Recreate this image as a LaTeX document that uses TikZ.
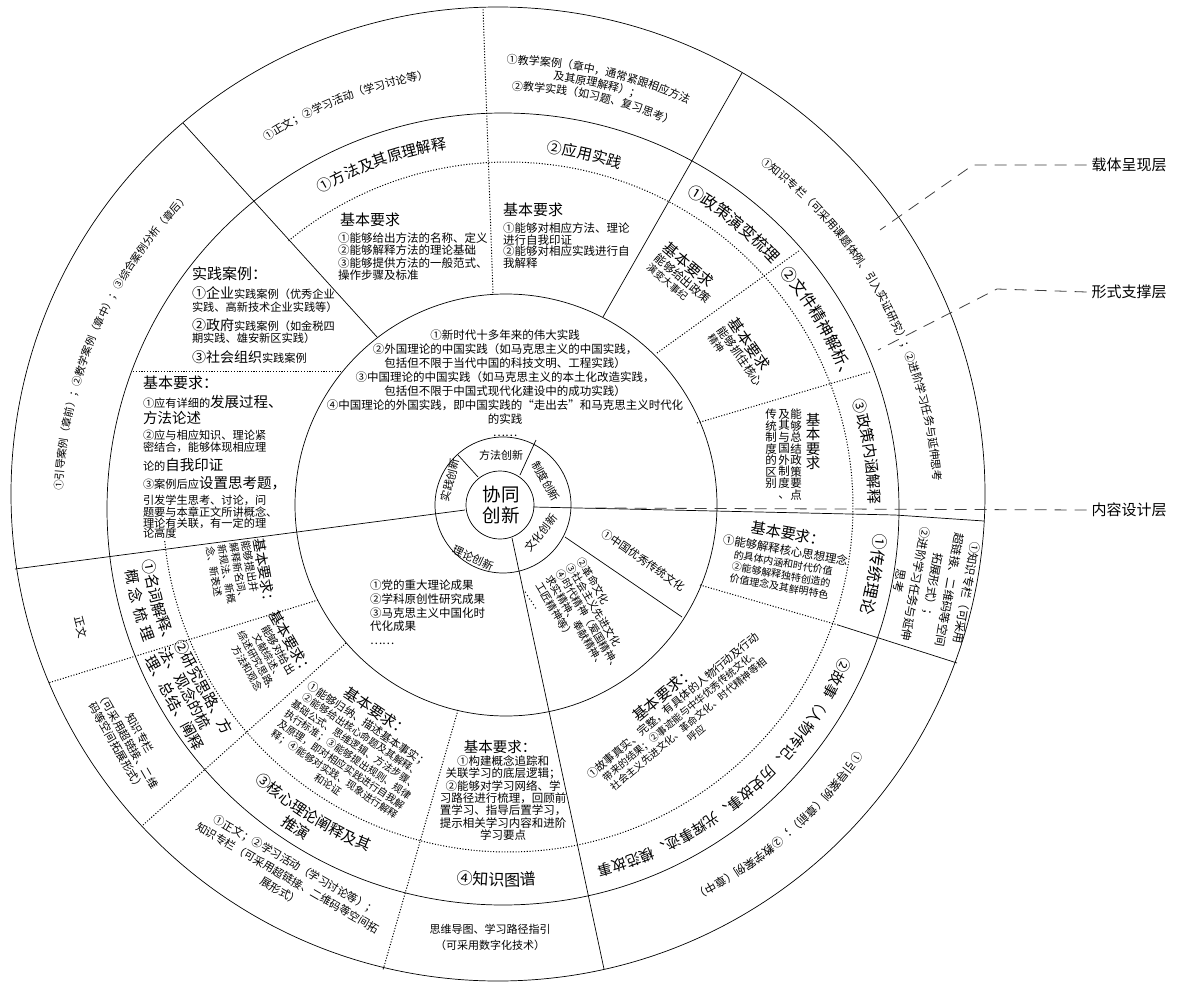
\documentclass[tikz,border=0pt]{standalone}
\usepackage{fontspec}
\setmainfont{Noto Sans CJK SC}
\usetikzlibrary{decorations.text}
\newcommand\fz[1]{\fontsize{#1}{#1}\selectfont}
\newcommand\fzb[2]{\fontsize{#1}{#2}\selectfont}
% curved text: centre, baseline radius, mid angle, half span (+ clockwise / - counter), size, text
\newcommand\arct[6]{%
  \path[decorate,decoration={text along path,text align=center,text={|\fz{#5}|#6}}]
    (#1) ++({#3+#4}:#2pt) arc[start angle={#3+#4},end angle={#3-#4},radius=#2pt];}
\newcommand\arcf[6]{%
  \path[decorate,decoration={text along path,text align=fit to path,text={|\fz{#5}|#6}}]
    (#1) ++({#3+#4}:#2pt) arc[start angle={#3+#4},end angle={#3-#4},radius=#2pt];}
\begin{document}
\begin{tikzpicture}[x=1pt,y=1pt,line width=0.7pt,
  dotl/.style={line width=1pt,dash pattern=on 1.1pt off 1.7pt},
  dashl/.style={line width=0.8pt,black!75,dash pattern=on 12pt off 8pt},
  tx/.style={inner sep=0pt,outer sep=0pt}]
\useasboundingbox (0,0) rectangle (1179,-982);
\fill[white] (0,0) rectangle (1179,-982);
\coordinate (O1) at (500,-505);
\coordinate (O2) at (503,-505);
\coordinate (O3) at (506,-505);
\coordinate (O4) at (503,-509);
\coordinate (OD) at (508,-507);
\coordinate (O5) at (498,-494);
% circles
\draw (O5) circle[radius=487pt];
\draw (O4) circle[radius=396pt];
\draw (O3) circle[radius=211pt];
\draw (O2) circle[radius=68pt];
\draw (O1) circle[radius=34pt];
\draw[dotl] (OD) ++(129.5:345pt) arc[start angle=129.5,end angle=-174.5,radius=345pt];
% solid radial lines
\draw (478,-477) -- (458,-455);
\draw (377,-337) -- (183,-123);
\draw (520,-475) -- (536,-440);
\draw (603,-317) -- (742,-73);
\draw (533,-507) -- (895,-515) -- (984,-521);
\draw (512,-538) -- (604,-969);
\draw (465,-510) -- (15,-569);
\draw (565,-537) -- (682,-617);
\draw (838,-625) -- (957,-663);
% dotted lines
\draw[dotl] (493,-293) -- (483,-8);
\draw[dotl] (657,-353) -- (800,-250);
\draw[dotl] (697,-423) -- (870,-372);
\draw[dotl] (700,-585) -- (838,-625);
\draw[dotl] (318,-600) -- (48,-683);
\draw[dotl] (346,-643) -- (143,-825);
\draw[dotl] (458,-710) -- (383,-970);
\draw[dotl] (133,-371) -- (342,-371);
% right labels
\node[tx,font=\fz{15}] (r1) at (1129,-165) {载体呈现层};
\node[tx,font=\fz{15}] (r2) at (1129,-292) {形式支撑层};
\node[tx,font=\fz{15}] (r3) at (1129,-510) {内容设计层};
\coordinate (e1) at (880,-230);
\coordinate (e2) at (878,-350);
\coordinate (e3) at (590,-508);
\draw[dashl] ([xshift=-5pt]r1.west) -- (973,-165) -- (e1);
\draw[dashl] ([xshift=-5pt]r2.west) -- (997,-289) -- (e2);
\draw[dashl] ([xshift=-5pt]r3.west) -- (e3);
% centre
\node[tx,align=center,font=\fzb{18.5}{21}] (xt) at (501,-505) {协同\\创新};
\node[tx,font=\fz{11}] (k1) at (501,-455) {方法创新};
\node[tx,font=\fz{11},rotate=-60] (k2) at (546,-481) {制度创新};
\node[tx,font=\fz{11},rotate=52] (k3) at (541,-533) {文化创新};
\node[tx,font=\fz{11},rotate=-25] (k4) at (473,-558) {理论创新};
\node[tx,font=\fz{11},rotate=75] (k5) at (450,-480) {实践创新};
% content ring
\node[tx,align=center,font=\fzb{11.5}{13.9}] (up) at (505,-383.5) {①新时代十多年来的伟大实践\\②外国理论的中国实践（如马克思主义的中国实践，\\包括但不限于当代中国的科技文明、工程实践）\\③中国理论的中国实践（如马克思主义的本土化改造实践，\\包括但不限于中国式现代化建设中的成功实践）\\④中国理论的外国实践，即中国实践的“走出去”和马克思主义时代化\\的实践\\……};
\node[tx,align=left,font=\fzb{11.5}{13.7},anchor=west] (th) at (370,-612.5) {①党的重大理论成果\\②学科原创性研究成果\\③马克思主义中国化时\\代化成果\\……};
\node[tx,font=\fz{11},rotate=-35] (cu1) at (643,-560) {①中国优秀传统文化};
\node[tx,align=left,font=\fzb{10.5}{12},rotate=-59] (cu2) at (584,-623) {②革命文化\\③社会主义先进文化\\④时代精神（爱国精神、\\求实精神、奉献精神、\\工匠精神等）\\……};
% method sector
\arct{O4}{437}{111.3}{20}{11}{①正文；②学习活动（学习讨论等）}
\arct{O4}{445}{77.5}{16}{11}{①教学案例（章中，通常紧跟相应方法}
\arct{O4}{432}{77.5}{16}{11}{及其原理解释）；}
\arct{O4}{419}{77.5}{16}{11}{②教学实践（如习题、复习思考）}
\arct{O4}{364.3}{109.4}{20}{15}{①方法及其原理解释}
\arct{O4}{359}{77}{12}{15}{②应用实践}
\node[tx,anchor=west,font=\fz{15}] (m1) at (340,-220) {基本要求};
\node[tx,anchor=west,align=left,font=\fzb{11.5}{12.3}] (m2) at (338,-256.5) {①能够给出方法的名称、定义\\②能够解释方法的理论基础\\③能够提供方法的一般范式、\\操作步骤及标准};
\node[tx,anchor=west,font=\fz{15}] (m3) at (503,-210) {基本要求};
\node[tx,anchor=west,align=left,font=\fzb{11.5}{11.7}] (m4) at (503,-245.5) {①能够对相应方法、理论\\进行自我印证\\②能够对相应实践进行自\\我解释};
% institution sector
\arct{O4}{364}{51}{14}{16}{①政策演变梳理}
\arct{O4}{364}{30.5}{14}{16}{②文件精神解析、}
\arct{O4}{366}{9}{12}{15}{③政策内涵解释}
\arct{O4}{431}{28.5}{30}{11}{①知识专栏（可采用课题体例、引入实证研究）；②进阶学习任务与延伸思考}
\node[tx,align=left,rotate=-40] (z1) at (684,-277) {\fz{15}基本要求\\[1pt]\fzb{11.5}{13.5}能够给出政策\\演变大事纪};
\node[tx,align=left,rotate=-55] (z2) at (742,-355) {\fz{15}基本要求\\[1pt]\fzb{11.5}{13}能够抓住核心\\精神};
\node[tx,anchor=north,align=center,font=\fzb{14.5}{14.5}] (z3a) at (813,-413) {基\\本\\要\\求};
\node[tx,anchor=north,align=center,font=\fzb{11.5}{11.5}] (z3b) at (796,-409) {能\\够\\总\\结\\政\\策\\要\\点};
\node[tx,anchor=north,align=center,font=\fzb{11.5}{11.5}] (z3c) at (784,-409) {及\\其\\与\\国\\外\\制\\度\\、};
\node[tx,anchor=north,align=center,font=\fzb{11.5}{11.5}] (z3d) at (771,-409) {传\\统\\制\\度\\的\\区\\别};
% culture sector
\arct{O4}{372}{-10}{12}{16}{①传统理论}
\node[tx,align=center,font=\fzb{11.5}{17},rotate=-100] (w1) at (933,-587) {①知识专栏（可采用\\超链接、二维码等空间\\拓展形式）；\\②进阶学习任务与延伸\\思考};
\arct{O4}{369.5}{-49.4}{32}{14.5}{②故事（人物传记、历史故事、光辉事迹、模范故事}
\arct{O4}{428}{-49}{22}{11.5}{①引导案例（章前）；②教学案例（章中）}
\node[tx,align=center,rotate=-10] (w2) at (784,-559) {\fz{15}基本要求：\\[4pt]\fzb{11.5}{14.5}①能够解释核心思想理念\\的具体内涵和时代价值\\②能够解释独特创造的\\价值理念及其鲜明特色};
\node[tx,align=center,rotate=40] (w3) at (679,-713) {\fz{15}基本要求：\\[1pt]\fzb{11}{14}①故事真实、完整，有具体的人物行动及行动\\带来的结果；②事迹能与中华优秀传统文化、\\社会主义先进文化、革命文化、时代精神等相\\呼应};
% practice sector
\arct{O4}{441}{156.5}{24}{10.5}{①引导案例（章前）；②教学案例（章中）；③综合案例分析（章后）}
\node[tx,anchor=base west] (p1) at (192,-279) {\fz{15}实践案例：};
\node[tx,anchor=base west] (p2) at (192,-298) {\fz{14}①企业\fz{11.2}实践案例（优秀企业};
\node[tx,anchor=base west] (p3) at (192,-311.5) {\fz{11.2}实践、高新技术企业实践等）};
\node[tx,anchor=base west] (p4) at (192,-330) {\fz{14}②政府\fz{11.2}实践案例（如金税四};
\node[tx,anchor=base west] (p5) at (192,-342.5) {\fz{11.2}期实践、雄安新区实践）};
\node[tx,anchor=base west] (p6) at (192,-362.5) {\fz{14}③社会组织\fz{11.2}实践案例};
\node[tx,anchor=base west] (q1) at (143,-388) {\fz{15}基本要求：};
\node[tx,anchor=base west] (q2) at (143,-407.5) {\fz{11.2}①应有详细的\fz{14.5}发展过程、};
\node[tx,anchor=base west] (q3) at (143,-423.5) {\fz{14.5}方法论述};
\node[tx,anchor=base west] (q4) at (143,-439.3) {\fz{11.2}②应与相应知识、理论紧};
\node[tx,anchor=base west] (q5) at (143,-451.3) {\fz{11.2}密结合，能够体现相应理};
\node[tx,anchor=base west] (q6) at (143,-470.5) {\fz{11.2}论的\fz{14.5}自我印证};
\node[tx,anchor=base west] (q7) at (143,-488.5) {\fz{11.2}③案例后应\fz{14.5}设置思考题，};
\node[tx,anchor=base west] (q8) at (143,-504.3) {\fz{11.2}引发学生思考、讨论，问};
\node[tx,anchor=base west] (q9) at (143,-516.3) {\fz{11.2}题要与本章正文所讲概念、};
\node[tx,anchor=base west] (q10) at (143,-527.3) {\fz{11.2}理论有关联，有一定的理};
\node[tx,anchor=base west] (q11) at (143,-537.3) {\fz{11.2}论高度};
% theory sector
\arct{O4}{363.7}{195.2}{-9}{15}{①名词解释、}
\arcf{O4}{382.7}{194.8}{-5.6}{15}{概念梳理}
\node[tx,align=left,font=\fzb{15}{16.5},rotate=-61.5] (l2) at (189,-695) {②研究思路、方\\法、观念的梳\\理、总结、阐释};
\arct{O4}{367.7}{238}{-20}{15}{③核心理论阐释及其}
\arct{O4}{385.7}{237}{-8}{15}{推演}
\arct{O4}{377}{269}{-12}{16}{④知识图谱}
\node[tx,font=\fz{11},rotate=-75] (o1) at (81,-627) {正文};
\node[tx,align=center,font=\fzb{11}{13.5},rotate=-60] (o2) at (128,-740) {知识专栏\\（可采用超链接、二维\\码等空间拓展形式）};
\node[tx,align=center,font=\fzb{11}{15},rotate=-30] (o3) at (288,-878) {①正文；②学习活动（学习讨论等）；\\知识专栏（可采用超链接、二维码等空间拓\\展形式）};
\node[tx,align=center,font=\fzb{11}{16}] (o4) at (490,-937) {思维导图、学习路径指引\\（可采用数字化技术）};
\node[tx,align=left,rotate=-80] (b1) at (241,-577) {\fz{14}基本要求：\\\fzb{10.5}{14.5}能够提出并\\解释新名词、\\新规法、新概\\念、新表述};
\node[tx,align=center,rotate=-60] (b2) at (270,-655) {\fz{14.5}基本要求：\\[1pt]\fzb{11}{13}能够对给出\\文献综述、\\综述研究思路、\\方法和观念};
\node[tx,align=center,rotate=-34] (b3) at (353,-747) {\fz{15}基本要求：\\[2pt]\fzb{11}{13}①能够归纳、描述基本事实；\\②能够给出核心命题及其解释、\\基础公式、思维逻辑、方法步骤、\\执行标准；③能够提出规则、规律\\及原理，即对相应实践进行自我解\\释；④能够对实践、现象进行解释\\和论证};
\node[tx,font=\fz{14.5}] (b4a) at (500,-747) {基本要求：};
\node[tx,align=center,font=\fzb{11.5}{12.4}] (b4b) at (503,-798) {①构建概念追踪和\\关联学习的底层逻辑；\\②能够对学习网络、学\\习路径进行梳理，回顾前\\置学习、指导后置学习，\\提示相关学习内容和进阶\\学习要点};
\end{tikzpicture}
\end{document}
